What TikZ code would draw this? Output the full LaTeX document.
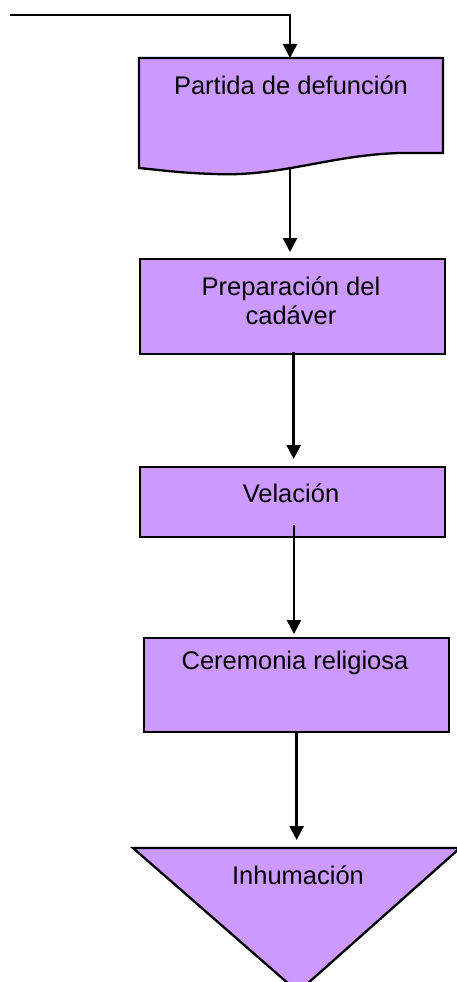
\documentclass[tikz,border=0pt]{standalone}
\usepackage{fontspec}
\setmainfont{Liberation Sans}
\usetikzlibrary{arrows.meta}
\definecolor{lav}{HTML}{CC99FF}
\begin{document}
\begin{tikzpicture}[x=1pt,y=-1pt,
  shapeline/.style={draw=black,line width=2.3pt,fill=lav},
  boxnode/.style={shapeline,rectangle,inner sep=0pt,anchor=north west},
  lbl/.style={font=\fontsize{25.5}{29}\selectfont,align=center,inner sep=0pt,anchor=center},
  conn/.style={line width=2.6pt,-{Triangle[width=14pt,length=14pt]}}]
\useasboundingbox (0,0) rectangle (456,982);
% document shape
\path[shapeline] (139,58) -- (443,58) -- (443,153) -- (400,153)
  .. controls (330,155) and (280,177) .. (215,174)
  .. controls (180,173) and (160,170) .. (139,168) -- cycle;
\coordinate (doctop) at (290,58);
\coordinate (docbot) at (290,169);
\node[lbl] (doct) at (291,85) {Partida de defunción};
% boxes
\node[boxnode,minimum width=305pt,minimum height=95pt] (prep) at (139,258) {};
\node[lbl] (prept) at (291,300.5) {Preparación del\\cadáver};
\node[boxnode,minimum width=305pt,minimum height=70pt] (vel) at (139,466) {};
\node[lbl] (velt) at (291,493) {Velación};
\node[boxnode,minimum width=305pt,minimum height=94pt] (cer) at (143,637) {};
\node[lbl] (cert) at (295,663) {Ceremonia religiosa};
% triangle
\path[shapeline] (133,848) -- (460,848) -- (298,992) -- cycle;
\coordinate (tritop) at (297,848);
\node[lbl] (trit) at (298,875) {Inhumación};
% connectors
\coordinate (start) at (10,15);
\draw[conn] (start) -| (doctop);
\draw[conn,shorten >=6pt] (docbot) -- (docbot |- prep.north);
\draw[conn,shorten >=7pt] ([xshift=1pt]prep.south) ++(0,-3) coordinate (p1) (p1) -- (p1 |- vel.north);
\draw[conn,shorten >=3pt] (294,525) coordinate (v1) (v1) -- (v1 |- cer.north);
\draw[conn,shorten >=8pt] (cer.south) coordinate (c1) (c1) -- (c1 |- tritop);
\end{tikzpicture}
\end{document}
